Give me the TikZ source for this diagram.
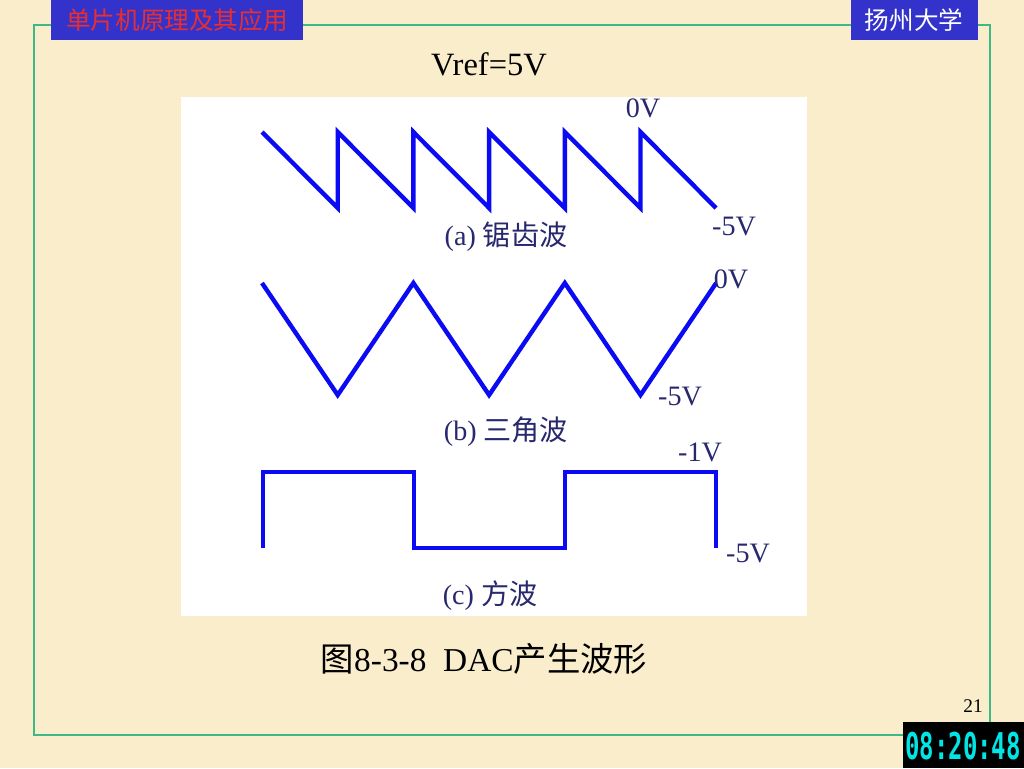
\documentclass[tikz,border=0pt]{standalone}
\usepackage{fontspec}
\setmainfont{Liberation Serif}
\newfontfamily\cjk{Noto Sans CJK SC}
\newfontfamily\clockfont{DejaVu Sans Mono}
\usetikzlibrary{calc}
\definecolor{paper}{RGB}{249,237,204}
\definecolor{frame}{RGB}{60,185,135}
\definecolor{hdbox}{RGB}{51,51,204}
\definecolor{hdred}{RGB}{235,45,45}
\definecolor{wave}{RGB}{10,10,245}
\definecolor{ink}{RGB}{40,40,110}
\definecolor{lcd}{RGB}{0,230,230}
\begin{document}
\begin{tikzpicture}[x=0.02cm,y=-0.02cm,
    wave/.style={draw=wave,line width=2.5pt},
    lbl/.style={text=ink,inner sep=0pt,font=\fontsize{16}{16}\selectfont},
    big/.style={inner sep=0pt,font=\fontsize{18.5}{18.5}\selectfont}]
    \useasboundingbox[fill=paper](0,0) rectangle (1024,768);
    \draw[frame,line width=0.8pt](34,735)--(34,25)--(990,25)--(990,735)--cycle;
    \fill[hdbox](51,0) rectangle (303,40);
    \fill[hdbox](851,0) rectangle (978,40);
    \node[text=hdred,inner sep=0pt,font=\cjk\fontsize{14}{14}\selectfont] (hdl) at (177,20) {单片机原理及其应用};
    \node[text=white,inner sep=0pt,font=\cjk\fontsize{14}{14}\selectfont] (hdr) at (914,20) {扬州大学};
    \node[big] (vref) at (489,64) {Vref=5V};
    \fill[white](181,97) rectangle (807,616);
    \draw[wave](262,132) foreach \k in {1,...,5}{ --({262+75.7*\k},208) --({262+75.7*\k},132)} --(716,208);
    \draw[wave](262,283) foreach \k in {1,3,5}{ --({262+75.7*\k},395) --({262+75.7*(\k+1)},283)};
    \draw[wave](263,548)--(263,472)--(414,472)--(414,548)--(565,548)--(565,472)--(716,472)--(716,548);
    \node[lbl] (za) at (643,108) {0V};
    \node[lbl] (fa) at (734,227) {-5V};
    \node[lbl] (la) at (506,237) {(a) {\cjk 锯齿波}};
    \node[lbl] (zb) at (731,279) {0V};
    \node[lbl] (fb) at (680,396) {-5V};
    \node[lbl] (lb) at (506,432) {(b) {\cjk 三角波}};
    \node[lbl] (oc) at (700,452) {-1V};
    \node[lbl] (fc) at (748,553) {-5V};
    \node[lbl] (lc) at (490,596) {(c) {\cjk 方波}};
    \node[inner sep=0pt,font=\fontsize{19}{19}\selectfont] (cap) at (484,659) {{\cjk 图}8-3-8~~DAC{\cjk 产生波形}};
    \node[inner sep=0pt,font=\fontsize{11}{11}\selectfont] (pgno) at (973,706) {21};
    \fill[black](903,722) rectangle (1024,768);
    \node[text=lcd,inner sep=0pt,xscale=0.65,font=\clockfont\bfseries\fontsize{21}{21}\selectfont] (clock) at (963,746) {08:20:48};
\end{tikzpicture}
\end{document}
